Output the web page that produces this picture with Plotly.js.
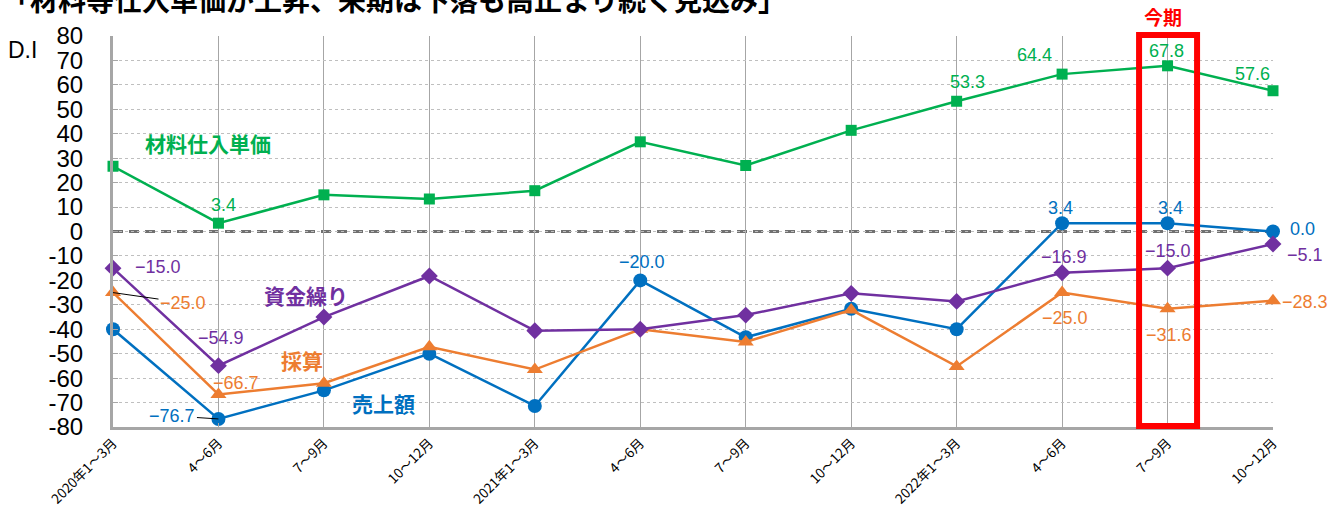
<!DOCTYPE html>
<html><head><meta charset="utf-8">
<script src="https://cdn.plot.ly/plotly-3.0.1.min.js"></script>
<style>html,body{margin:0;padding:0;background:#fff;}#chart{width:1342px;height:508px;}</style>
</head><body><div id="chart"></div>
<script>
const categories = ["2020年1～3月","4～6月","7～9月","10～12月","2021年1～3月","4～6月","7～9月","10～12月","2022年1～3月","4～6月","7～9月","10～12月"];
const material = [26.7, 3.4, 15.0, 13.3, 16.7, 36.7, 27.0, 41.4, 53.3, 64.4, 67.8, 57.6];
const sales    = [-40.0, -76.7, -65.0, -50.0, -71.4, -20.0, -43.3, -31.6, -40.0, 3.4, 3.4, 0.0];
const profit   = [-25.0, -66.7, -62.1, -47.2, -56.5, -40.0, -45.2, -32.1, -55.2, -25.0, -31.6, -28.3];
const funding  = [-15.0, -54.9, -35.0, -18.2, -40.6, -40.0, -34.2, -25.3, -28.6, -16.9, -15.0, -5.1];
const yTicks = [80,70,60,50,40,30,20,10,0,-10,-20,-30,-40,-50,-60,-70,-80];
const seriesNames = ["売上額","採算","資金繰り","材料仕入単価"];
const currentIdx = 10;

const xs = categories.map((_, i) => i);
const C = {green:"#00B050", blue:"#0070C0", orange:"#ED7D31", purple:"#7030A0"};
const JP = "Noto Sans CJK JP";

function tr(y, color, symbol, size, name){
  return {x: xs, y: y, type:"scatter", mode:"lines+markers", name: name,
    line:{color:color, width:2.5}, marker:{color:color, symbol:symbol, size:size},
    cliponaxis:false, hoverinfo:"skip"};
}
const data = [
  tr(sales, C.blue, "circle", 14, seriesNames[0]),
  tr(profit, C.orange, "triangle-up", 14, seriesNames[1]),
  tr(funding, C.purple, "diamond", 13, seriesNames[2]),
  tr(material, C.green, "square", 11, seriesNames[3])
];

function fmt(v){ return v.toFixed(1).replace("-", "−"); }
const ann = [];
function lab(series, i, color, dx, dy, extra){
  const a = {x:i, y:series[i], text:fmt(series[i]), showarrow:false, xshift:dx, yshift:dy,
    xanchor:"center", yanchor:"middle",
    font:{family:"Liberation Sans", size:18, color:color}};
  ann.push(Object.assign(a, extra||{}));
}
// green
lab(material,1,C.green,5,18); lab(material,8,C.green,11,19); lab(material,9,C.green,-28,19);
lab(material,10,C.green,-1,15); lab(material,11,C.green,-21,17);
// blue
lab(sales,5,C.blue,2,18); lab(sales,9,C.blue,-2,15); lab(sales,10,C.blue,3,15); lab(sales,11,C.blue,29,3);
ann.push({x:1, y:sales[1], text:fmt(sales[1]), showarrow:true, arrowhead:0, arrowwidth:1, arrowcolor:"#000",
  ax:-46, ay:-3, standoff:0, font:{family:"Liberation Sans", size:18, color:C.blue}});
// purple
lab(funding,0,C.purple,45,1); lab(funding,1,C.purple,3,28); lab(funding,9,C.purple,2,16);
lab(funding,10,C.purple,0,17); lab(funding,11,C.purple,32,-11);
// orange
lab(profit,1,C.orange,18,12); lab(profit,9,C.orange,3,-25); lab(profit,10,C.orange,1,-26); lab(profit,11,C.orange,32,-1);
ann.push({x:0, y:profit[0], text:fmt(profit[0]), showarrow:true, arrowhead:0, arrowwidth:1, arrowcolor:"#000",
  ax:70, ay:10, standoff:0, font:{family:"Liberation Sans", size:18, color:C.orange}});

// series name labels
function nameLab(text, color, px, py){
  ann.push({xref:"paper", yref:"paper", x:(px-113)/1160, y:(427-py)/391, xanchor:"center", yanchor:"middle",
    text:"<b>"+text+"</b>", showarrow:false, font:{family:JP, size:21, color:color}});
}
nameLab(seriesNames[3], C.green, 208, 143);
nameLab(seriesNames[2], C.purple, 306, 295);
nameLab(seriesNames[1], C.orange, 302, 360);
nameLab(seriesNames[0], C.blue, 383, 403);
// title, D.I, 今期
ann.push({xref:"paper", yref:"paper", x:(0-113)/1160, xanchor:"left", y:(427+1)/391, yanchor:"middle",
  text:"<b>「材料等仕入単価が上昇、来期は下落も高止まり続く見込み」</b>", showarrow:false,
  font:{family:JP, size:28, color:"#000"}});
ann.push({xref:"paper", yref:"paper", x:(22-113)/1160, y:(427-50)/391, xanchor:"center", yanchor:"middle",
  text:"D.I", showarrow:false, font:{family:"Liberation Sans", size:23, color:"#000"}});
ann.push({x:currentIdx, yref:"paper", y:(427-16)/391, xanchor:"center", yanchor:"middle",
  text:"<b>今期</b>", showarrow:false, xshift:-5, font:{family:JP, size:19, color:"#FF0000"}});

const layout = {
  width:1342, height:508, margin:{l:113, r:69, t:36, b:81},
  paper_bgcolor:"#fff", plot_bgcolor:"#fff", showlegend:false,
  xaxis:{range:[0, categories.length-1], tickvals:xs, ticktext:categories, tickangle:-45,
    tickfont:{family:JP, size:13.5, color:"#000"}, showgrid:true, gridcolor:"#a6a6a6", gridwidth:1,
    showline:true, linecolor:"#a6a6a6", linewidth:3, ticks:"inside", ticklen:4, tickcolor:"#a6a6a6",
    zeroline:false, fixedrange:true},
  yaxis:{range:[-80, 80], tickvals:yTicks, ticktext:yTicks.map(String), showgrid:true, gridcolor:"#bfbfbf",
    griddash:"dot", gridwidth:1, showline:true, linecolor:"#a6a6a6", linewidth:3, ticks:"inside", ticklen:5,
    tickcolor:"#a6a6a6", ticklabelstandoff:22, tickfont:{family:"Liberation Sans", size:24, color:"#000"},
    zeroline:false, fixedrange:true},
  shapes:[
    {type:"line", xref:"paper", x0:0, x1:1, yref:"y", y0:0, y1:0, layer:"below",
      line:{color:"#707070", width:3, dash:"10px,6px"}},
    {type:"rect", xref:"x", x0:currentIdx-0.27, x1:currentIdx+0.28, yref:"paper", y0:0.0026, y1:1.0026,
      line:{color:"#FF0000", width:6}, layer:"above"}
  ],
  annotations: ann
};
Plotly.newPlot("chart", data, layout, {staticPlot:true});
</script></body></html>
